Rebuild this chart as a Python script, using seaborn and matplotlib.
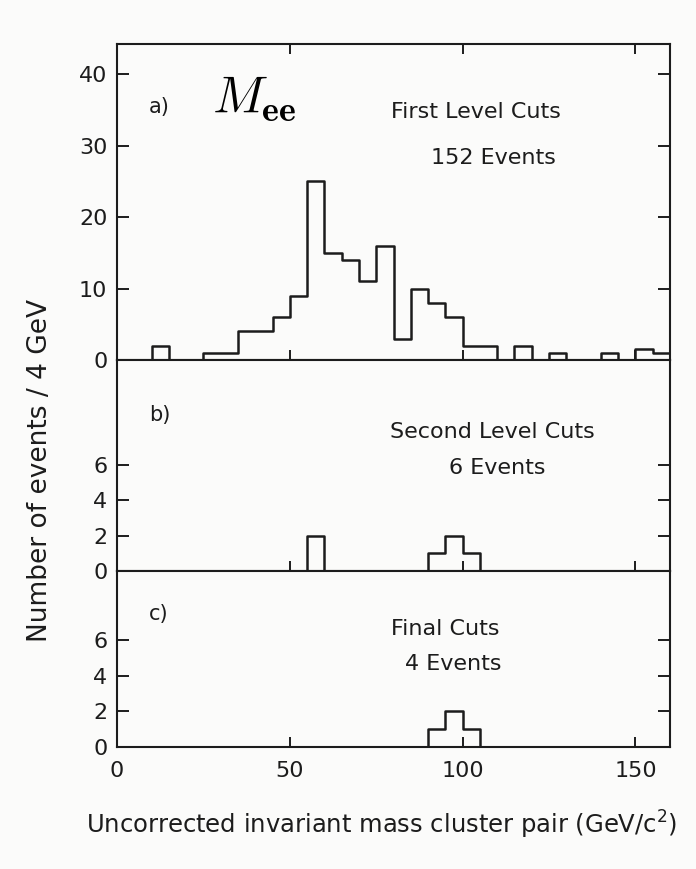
import numpy as np
import pandas as pd
import matplotlib
matplotlib.use("Agg")
import matplotlib.pyplot as plt
import seaborn as sns

# ---------------- data ----------------
BIN_WIDTH = 5
MASS_RANGE = (0, 160)

# panel a) first level cuts : bin centres (GeV) and counts
mass_a = [12.5, 27.5, 32.5, 37.5, 42.5, 47.5, 52.5, 57.5, 62.5, 67.5, 72.5,
          77.5, 82.5, 87.5, 92.5, 97.5, 102.5, 107.5, 117.5, 127.5, 142.5,
          152.5, 157.5]
counts_a = [2, 1, 1, 4, 4, 6, 9, 25, 15, 14, 11,
            16, 3, 10, 8, 6, 2, 2, 2, 1, 1,
            1.5, 1]

# panel b) second level cuts
mass_b = [57.5, 92.5, 97.5, 102.5]
counts_b = [2, 1, 2, 1]

# panel c) final cuts
mass_c = [92.5, 97.5, 102.5]
counts_c = [1, 2, 1]

panel_tags = ["a)", "b)", "c)"]
panel_titles = ["First Level Cuts", "Second Level Cuts", "Final Cuts"]
panel_events = ["152 Events", "6 Events", "4 Events"]
yticks_a = [0, 10, 20, 30, 40]
yticks_bc = [0, 2, 4, 6]
xticks = [0, 50, 100, 150]
xlabel = "Uncorrected invariant mass cluster pair (GeV/c$^{\\mathregular{2}}$)"
ylabel = "Number of events / 4 GeV"

# ---------------- style ----------------
sns.set_theme(style="ticks")
plt.rcParams["font.family"] = ["DejaVu Sans"]
INK = "#1c1c1c"
BG = "#fbfbfa"
FS = 16

fig = plt.figure(figsize=(6.96, 8.69), dpi=100, facecolor=BG)
W, H = 696.0, 869.0
left, right = 117 / W, 670 / W
tops = [44, 360, 571]
bots = [360, 571, 747]
ylims = [44.2, 11.9, 9.9]

axes = []
for t, b in zip(tops, bots):
    ax = fig.add_axes([left, 1 - b / H, right - left, (b - t) / H])
    ax.set_facecolor(BG)
    axes.append(ax)

datasets = [(mass_a, counts_a), (mass_b, counts_b), (mass_c, counts_c)]
for i, (ax, (m, c)) in enumerate(zip(axes, datasets)):
    df = pd.DataFrame({"mass": m, "count": c})
    sns.histplot(data=df, x="mass", weights="count", binwidth=BIN_WIDTH,
                 binrange=MASS_RANGE, element="step", fill=False,
                 color=INK, linewidth=1.8, ax=ax)
    ax.set_xlim(*MASS_RANGE)
    ax.set_ylim(0, ylims[i])
    ax.set_xlabel("")
    ax.set_ylabel("")
    ax.set_xticks(xticks)
    ax.set_yticks(yticks_a if i == 0 else yticks_bc)
    for sp in ax.spines.values():
        sp.set_visible(True)
        sp.set_color(INK)
        sp.set_linewidth(1.5)
    ax.tick_params(axis="y", which="major", direction="in", left=True,
                   right=True, length=8.5, width=1.4, color=INK,
                   labelsize=FS, labelcolor=INK, pad=7)
    ax.tick_params(axis="x", which="major", direction="in", bottom=True,
                   top=(i == 0), length=7.5, width=1.4, color=INK,
                   labelsize=FS, labelcolor=INK, pad=10,
                   labelbottom=(i == 2))

    ax.text(0.058, [0.80, 0.739, 0.753][i], panel_tags[i], transform=ax.transAxes,
            fontsize=FS - 1, color=INK, ha="left", va="center")
    tx = [0.649, 0.678, 0.593][i]
    ty = [0.785, 0.659, 0.670][i]
    ax.text(tx, ty, panel_titles[i], transform=ax.transAxes,
            fontsize=FS, color=INK, ha="center", va="center")
    ex = [0.681, 0.688, 0.608][i]
    ey = [0.639, 0.488, 0.472][i]
    ax.text(ex, ey, panel_events[i], transform=ax.transAxes,
            fontsize=FS, color=INK, ha="center", va="center")

axes[0].text(0.172, 0.782, r"$M_{\mathbf{ee}}$", transform=axes[0].transAxes,
             fontsize=37, color="black", ha="left", va="baseline",
             math_fontfamily="cm")

fig.text(382 / W, 1 - 825 / H, xlabel, fontsize=17.5, color=INK,
         ha="center", va="center")
fig.text(40 / W, 1 - 470 / H, ylabel, fontsize=19, color=INK,
         ha="center", va="center", rotation=90)

fig.savefig("out.png", dpi=100, facecolor=BG)
